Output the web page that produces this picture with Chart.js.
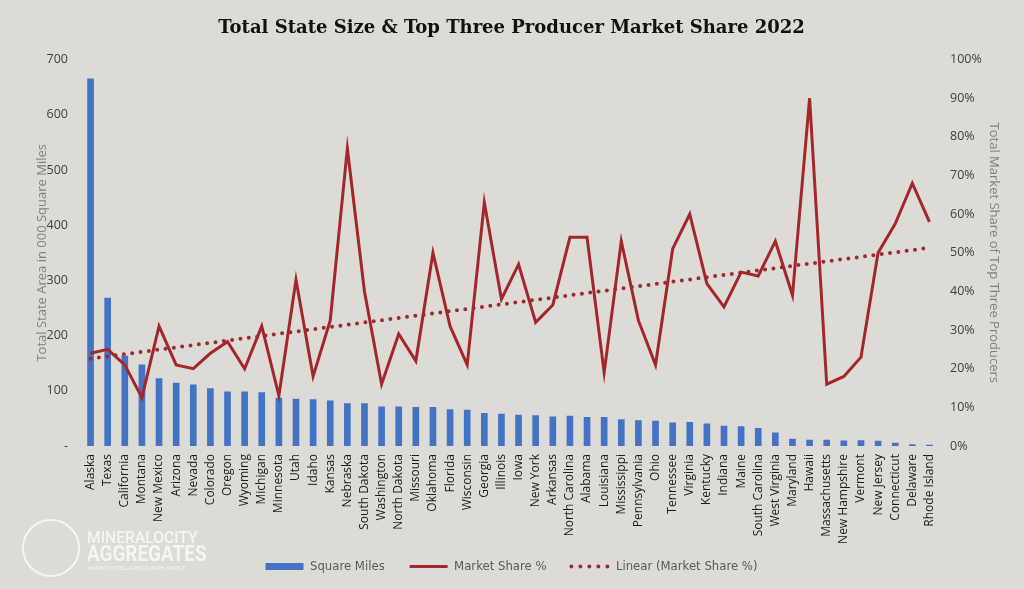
<!DOCTYPE html>
<html>
<head>
<meta charset="utf-8">
<script src="https://cdn.jsdelivr.net/npm/chart.js@4.4.0/dist/chart.umd.min.js"></script>
<style>
  html, body { margin: 0; padding: 0; background: #dddbd6; }
  #wrap { position: relative; width: 1024px; height: 589px; }
  #logo { position: absolute; left: 20px; top: 517px; width: 200px; height: 62px; color: #f6f5f2; }
  #logo .ring { position: absolute; left: 2px; top: 2px; width: 54px; height: 54px; border: 2px solid #f6f5f2; border-radius: 50%; }
  #logo .l1 { position: absolute; left: 67px; top: 10px; font: 500 17px Roboto, sans-serif; transform: scaleX(0.92); transform-origin: left top; white-space: nowrap; }
  #logo .l2 { position: absolute; left: 67px; top: 24px; font: bold 22px Roboto, sans-serif; transform: scaleX(0.86); transform-origin: left top; white-space: nowrap; }
  #logo .l3 { position: absolute; left: 68px; top: 48px; font: 5px "DejaVu Sans", sans-serif; letter-spacing: 0.1px; white-space: nowrap; }
</style>
</head>
<body>
<div id="wrap">
  <canvas id="chart" width="1024" height="589"></canvas>
  <div id="logo">
    <div class="ring"></div>
    <div class="l1">MINERALOCITY</div>
    <div class="l2">AGGREGATES</div>
    <div class="l3">MARKET INTELLIGENCE MADE SIMPLE</div>
  </div>
</div>
<script>
// states in order of total area
const states = ['Alaska', 'Texas', 'California', 'Montana', 'New Mexico', 'Arizona', 'Nevada', 'Colorado',
  'Oregon', 'Wyoming', 'Michigan', 'Minnesota', 'Utah', 'Idaho', 'Kansas', 'Nebraska', 'South Dakota',
  'Washington', 'North Dakota', 'Missouri', 'Oklahoma', 'Florida', 'Wisconsin', 'Georgia', 'Illinois',
  'Iowa', 'New York', 'Arkansas', 'North Carolina', 'Alabama', 'Louisiana', 'Mississippi', 'Pennsylvania',
  'Ohio', 'Tennessee', 'Virginia', 'Kentucky', 'Indiana', 'Maine', 'South Carolina', 'West Virginia',
  'Maryland', 'Hawaii', 'Massachusetts', 'New Hampshire', 'Vermont', 'New Jersey', 'Connecticut',
  'Delaware', 'Rhode Island'];

// total area, thousands of square miles
const squareMiles = [665, 268, 163, 147, 122, 114, 111, 104, 98, 98, 97, 87, 85, 84, 82, 77, 77,
  71, 71, 70, 70, 66, 65, 59, 58, 56, 55, 53, 54, 52, 52, 48, 46, 45, 42, 43, 40, 36, 35, 32, 24,
  12.4, 10.9, 10.6, 9.3, 9.6, 8.7, 5.5, 2.5, 1.5];

// top three producer market share, %
const marketShare = [24, 25, 21, 12.5, 31, 21, 20, 24, 27, 20, 31, 13, 43, 18, 32.5, 77, 40,
  16, 29, 22, 50, 31, 21, 63, 38, 47, 32, 36.5, 54, 54, 19, 53, 32.5, 21, 51, 60, 42, 36, 45, 44, 53,
  39, 90, 16, 18, 23, 50, 57.5, 68, 58];

// linear trend line, value at first and last state
const trendEnds = [22.6, 51.3];

const leftTicks = [0, 100, 200, 300, 400, 500, 600, 700];
const rightTicks = [0, 10, 20, 30, 40, 50, 60, 70, 80, 90, 100];

const trendData = states.map((s, i) => {
  if (i === 0) return trendEnds[0];
  if (i === states.length - 1) return trendEnds[1];
  return null;
});

const blue = '#4472c4';
const red = '#a3262a';
const tickFont = { family: '"Open Sans", sans-serif', size: 12.5 };

new Chart(document.getElementById('chart'), {
  data: {
    labels: states,
    datasets: [
      {
        type: 'bar',
        label: 'Square Miles',
        data: squareMiles,
        backgroundColor: blue,
        barThickness: 6,
        yAxisID: 'y',
        order: 3
      },
      {
        type: 'line',
        label: 'Market Share %',
        data: marketShare,
        borderColor: red,
        borderWidth: 3,
        pointRadius: 0,
        tension: 0,
        yAxisID: 'y1',
        order: 2
      },
      {
        type: 'line',
        label: 'Linear (Market Share %)',
        data: trendData,
        borderColor: '#9c2a2e',
        borderWidth: 4,
        borderDash: [0, 8.4],
        borderCapStyle: 'round',
        spanGaps: true,
        pointRadius: 0,
        yAxisID: 'y1',
        order: 1
      }
    ]
  },
  options: {
    responsive: false,
    animation: false,
    layout: { padding: { left: 21, right: 22, top: 0, bottom: 6 } },
    plugins: {
      title: {
        display: true,
        text: 'Total State Size & Top Three Producer Market Share 2022',
        color: '#111',
        font: { family: '"DejaVu Serif", serif', size: 18, weight: 'bold' },
        padding: { top: 18, bottom: 20 }
      },
      legend: {
        position: 'bottom',
        labels: {
          usePointStyle: true,
          pointStyleWidth: 38,
          padding: 10,
          color: '#595959',
          font: { family: '"Liberation Sans Narrow", "DejaVu Sans Condensed", sans-serif', size: 13 },
          generateLabels: () => [
            { text: 'Square Miles    ', pointStyle: 'line', strokeStyle: blue, fillStyle: blue, lineWidth: 7, fontColor: '#595959' },
            { text: 'Market Share %    ', pointStyle: 'line', strokeStyle: red, fillStyle: red, lineWidth: 3, fontColor: '#595959' },
            { text: 'Linear (Market Share %)', pointStyle: 'line', strokeStyle: '#9c2a2e', fillStyle: '#9c2a2e', lineWidth: 4, lineDash: [0, 9], lineCap: 'round', fontColor: '#595959' }
          ]
        }
      },
      tooltip: { enabled: false }
    },
    scales: {
      x: {
        grid: { display: false, drawTicks: false },
        border: { display: false },
        ticks: {
          autoSkip: false,
          minRotation: 90,
          maxRotation: 90,
          padding: 8,
          color: '#1a1a1a',
          font: { family: '"Open Sans", sans-serif', size: 12 }
        },
        afterFit: scale => { scale.height = 104; }
      },
      y: {
        position: 'left',
        min: 0,
        max: 700,
        grid: { display: false, drawTicks: false },
        border: { display: false },
        afterBuildTicks: scale => { scale.ticks = leftTicks.map(v => ({ value: v })); },
        ticks: {
          padding: 14,
          color: '#404040',
          font: tickFont,
          callback: v => (v === 0 ? '-' : v)
        },
        title: {
          display: true,
          text: 'Total State Area in 000 Square Miles',
          color: '#808080',
          font: { family: '"Open Sans", sans-serif', size: 13 },
          padding: { top: 13, bottom: 0 }
        },
        afterFit: scale => { scale.width = 61; }
      },
      y1: {
        position: 'right',
        min: 0,
        max: 100,
        grid: { display: false, drawTicks: false },
        border: { display: false },
        afterBuildTicks: scale => { scale.ticks = rightTicks.map(v => ({ value: v })); },
        ticks: {
          padding: 12,
          color: '#404040',
          font: tickFont,
          callback: v => v + '%'
        },
        title: {
          display: true,
          text: 'Total Market Share of Top Three Producers',
          color: '#808080',
          font: { family: '"Open Sans", sans-serif', size: 13 },
          padding: { top: 0, bottom: 0 }
        },
        afterFit: scale => { scale.width = 64; }
      }
    }
  }
});
</script>
</body>
</html>
